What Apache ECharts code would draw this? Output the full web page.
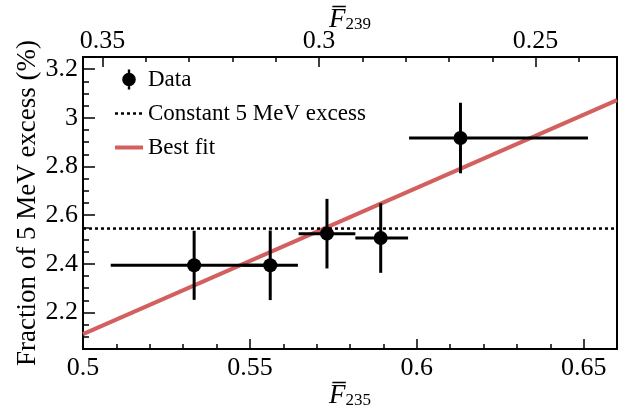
<!DOCTYPE html>
<html>
<head>
<meta charset="utf-8">
<script src="https://cdn.jsdelivr.net/npm/echarts@6/dist/echarts.min.js"></script>
<style>
  html,body{margin:0;padding:0;background:#fff;}
  #main{width:630px;height:414px;}
</style>
</head>
<body>
<div id="main"></div>
<script>
// data
const f235 = [0.5333, 0.5561, 0.5731, 0.5892, 0.6131]   // bin centres
const f235Lo = [0.5083, 0.5478, 0.5646, 0.5816, 0.5977]
const f235Hi = [0.5583, 0.5644, 0.5816, 0.5974, 0.6513]
const excess = [2.394, 2.394, 2.524, 2.506, 2.917]     // %
const excessErr = [0.142, 0.143, 0.143, 0.143, 0.145]
const constExcess = 2.545
const fitX = [0.5, 0.66]
const fitY = [2.111, 3.073]

// ticks
const xMajor = [0.5, 0.55, 0.6, 0.65]
const xMinor = [0.51, 0.52, 0.53, 0.54, 0.56, 0.57, 0.58, 0.59, 0.61, 0.62, 0.63, 0.64]
const topMajor = [0.35, 0.3, 0.25]
const topMinor = [0.34, 0.33, 0.32, 0.31, 0.29, 0.28, 0.27, 0.26, 0.24]
const yMajor = [2.2, 2.4, 2.6, 2.8, 3, 3.2]
const yMinor = [2.1, 2.15, 2.25, 2.3, 2.35, 2.45, 2.5, 2.55, 2.65, 2.7, 2.75, 2.85, 2.9, 2.95, 3.05, 3.1, 3.15]

const serif = 'Liberation Serif'
const points = f235.map((x, i) => [x, excess[i], f235Lo[i], f235Hi[i], excess[i] - excessErr[i], excess[i] + excessErr[i]])

const chart = echarts.init(document.getElementById('main'))

const nameRich = {
  f: {fontFamily: serif, fontStyle: 'italic', fontSize: 27, color: '#000', verticalAlign: 'bottom', lineHeight: 30},
  s: {fontFamily: serif, fontSize: 17, color: '#000', verticalAlign: 'bottom', lineHeight: 12}
}

function minorAxis(pos, vals, extra) {
  return Object.assign({
    type: 'value', position: pos,
    axisLine: {show: false}, splitLine: {show: false},
    axisLabel: {show: false},
    axisTick: {show: true, inside: true, length: 5, customValues: vals, lineStyle: {color: '#000', width: 1.5}}
  }, extra)
}

const option = {
  animation: false,
  grid: {left: 83, right: 13, top: 57, bottom: 65, outerBoundsMode: 'none', containLabel: false,
    show: true, borderColor: '#000', borderWidth: 2},
  xAxis: [
    {
      type: 'value', position: 'bottom', min: 0.5, max: 0.66,
      axisLine: {show: false}, splitLine: {show: false},
      axisTick: {inside: true, length: 10, customValues: xMajor, lineStyle: {color: '#000', width: 1.5}},
      axisLabel: {customValues: xMajor, fontFamily: serif, fontSize: 26, color: '#000', margin: 6},
      name: '{f|F\u0305}{s|235}', nameLocation: 'middle', nameGap: 30, nameMoveOverlap: false,
      nameTextStyle: {rich: nameRich}
    },
    minorAxis('bottom', xMinor, {min: 0.5, max: 0.66}),
    {
      type: 'value', position: 'top', inverse: true, min: 0.2312, max: 0.3545,
      axisLine: {show: false}, splitLine: {show: false},
      axisTick: {inside: true, length: 10, customValues: topMajor, lineStyle: {color: '#000', width: 1.5}},
      axisLabel: {customValues: topMajor, fontFamily: serif, fontSize: 26, color: '#000', margin: 3},
      name: '{f|F\u0305}{s|239}', nameLocation: 'middle', nameGap: 24, nameMoveOverlap: false,
      nameTextStyle: {rich: nameRich}
    },
    minorAxis('top', topMinor, {inverse: true, min: 0.2312, max: 0.3545})
  ],
  yAxis: [
    {
      type: 'value', position: 'left', min: 2.05, max: 3.25,
      axisLine: {show: false}, splitLine: {show: false},
      axisTick: {inside: true, length: 12, customValues: yMajor, lineStyle: {color: '#000', width: 1.5}},
      axisLabel: {customValues: yMajor, fontFamily: serif, fontSize: 26, color: '#000', margin: 5},
      name: 'Fraction of 5 MeV excess (%)', nameLocation: 'middle', nameGap: 42, nameMoveOverlap: false,
      nameTextStyle: {fontFamily: serif, fontSize: 27, color: '#000'}
    },
    minorAxis('left', yMinor, {min: 2.05, max: 3.25, axisTick: {show: true, inside: true, length: 6, customValues: yMinor, lineStyle: {color: '#000', width: 1.5}}})
  ],
  legend: {
    orient: 'vertical', left: 113, top: 68, padding: 0,
    itemWidth: 28, itemHeight: 20, itemGap: 11,
    textStyle: {fontFamily: serif, fontSize: 23, color: '#000'},
    data: [
      {name: 'Data', icon: 'path://M5.6,0h2.4v20h-2.4z M0,10a6.8,6.8 0 1,1 13.6,0a6.8,6.8 0 1,1 -13.6,0z', itemStyle: {opacity: 1}},
      {name: 'Constant 5 MeV excess', itemStyle: {opacity: 0}, lineStyle: {color: '#000', width: 2.5, type: [3, 3]}},
      {name: 'Best fit', itemStyle: {opacity: 0}, lineStyle: {color: '#d35f5f', width: 4}}
    ]
  },
  series: [
    {
      name: 'Best fit', type: 'line', xAxisIndex: 0, yAxisIndex: 0,
      data: fitX.map((x, i) => [x, fitY[i]]),
      symbol: 'none', lineStyle: {color: '#d35f5f', width: 4}, itemStyle: {color: '#d35f5f', opacity: 0}, z: 2
    },
    {
      name: 'Constant 5 MeV excess', type: 'line', xAxisIndex: 0, yAxisIndex: 0,
      data: [[0.5, constExcess], [0.66, constExcess]],
      symbol: 'none', lineStyle: {color: '#000', width: 2.5, type: [3, 3]}, itemStyle: {color: '#000', opacity: 0}, z: 3
    },
    {
      name: 'Data', type: 'custom', xAxisIndex: 0, yAxisIndex: 0,
      data: points, itemStyle: {color: '#000'}, z: 4,
      renderItem(params, api) {
        const x = api.value(0), y = api.value(1)
        const l = api.coord([api.value(2), y]), r = api.coord([api.value(3), y])
        const b = api.coord([x, api.value(4)]), t = api.coord([x, api.value(5)])
        return {
          type: 'group',
          children: [
            {type: 'line', shape: {x1: l[0], y1: l[1], x2: r[0], y2: r[1]}, style: {stroke: '#000', lineWidth: 3}},
            {type: 'line', shape: {x1: b[0], y1: b[1], x2: t[0], y2: t[1]}, style: {stroke: '#000', lineWidth: 3}}
          ]
        }
      }
    },
    {
      name: 'Data', type: 'scatter', xAxisIndex: 0, yAxisIndex: 0,
      data: f235.map((x, i) => [x, excess[i]]),
      symbol: 'circle', symbolSize: 14, itemStyle: {color: '#000', opacity: 1}, z: 5
    }
  ]
}
chart.setOption(option)
</script>
</body>
</html>
